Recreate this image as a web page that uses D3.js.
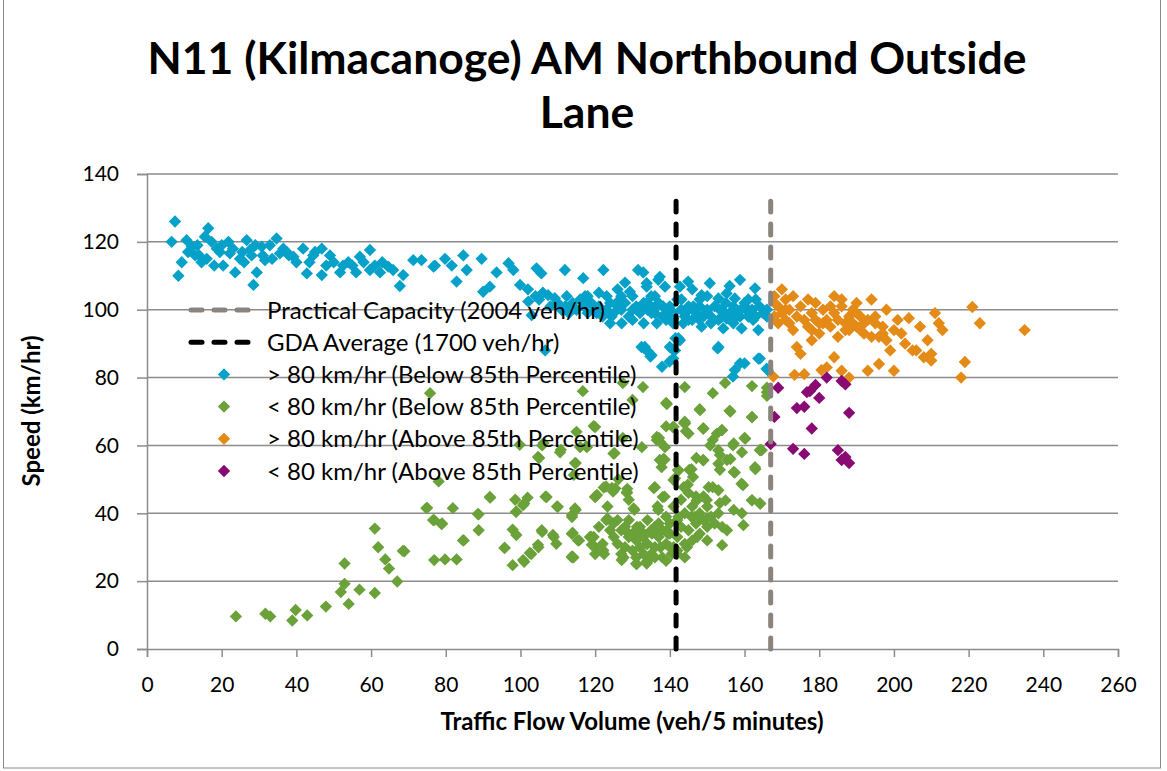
<!DOCTYPE html>
<html>
<head>
<meta charset="utf-8">
<script src="https://cdn.jsdelivr.net/npm/d3@7"></script>
<style>
  body { margin: 0; background: #fff; }
  svg { display: block; font-family: Lato, "Open Sans", sans-serif; }
</style>
</head>
<body>
<div id="chart"></div>
<script>
// title + axis text
var titleLines = ["N11 (Kilmacanoge) AM Northbound Outside", "Lane"];
var xTitle = "Traffic Flow Volume (veh/5 minutes)";
var yTitle = "Speed (km/hr)";
var xTicks = [0, 20, 40, 60, 80, 100, 120, 140, 160, 180, 200, 220, 240, 260];
var yTicks = [0, 20, 40, 60, 80, 100, 120, 140];

// capacity lines: flow per 5 min, and how high they are drawn
var practicalCapacity = 2004 / 12;
var gdaAverage = 1700 / 12;
var capLineTop = 132;

// series: [flow, speed]
var aboveBelow = [ // > 80 km/hr (Below 85th Percentile)
  [7.5,126],[6.6,120],[8.4,110],[9.3,114],[10.6,120.5],[12,118.6],[12.9,116],[14.6,114],[16.4,124],[15.5,121.5],
  [17.3,120],[18.7,118],[20.4,113],[21.8,120],[22.2,116.6],[23.6,111],[24.9,115],[26.7,120.5],[27.6,117.6],[28.5,107.3],
  [29.4,111],[30.7,118.6],[31.6,114.6],[32.9,119],[34.7,121],[35.6,116.6],[37.4,117],[39.2,115.6],[41.8,118],[42.8,110.7],
  [44.5,116],[46.8,118],[46.8,110.2],[49,116],[51.7,111],[53.9,114],[57,115.6],[59.7,117.6],[59.7,111.7],[62.4,111],
  [64.6,112.7],[65.9,111.7],[67.7,107],[68.6,110.2],[71.3,114.6],[73.5,114.6],[76.7,112.7],
  [11,117],[13.5,119],[14,116],[16,115],[18,113],[19.5,117],[20,119],[23,118],[25.5,117],[26,114],[28,116],[29,119],
  [31,116],[33.5,115],[36.5,118],[38,116],[40,114],[43.5,114],[45,117],[48,113],[50,114],[52.5,113],[55,113],[56,111],
  [58,114],[61,113],[63,114],
  [77.1,113],[79.8,115],[81.6,113],[82.9,108.3],[84.7,116],[85.6,111.7],[89.6,115],[90,105.3],[91.8,106.8],[93.6,111],
  [96.8,113.7],[98.1,111.7],[99.9,107.3],[102.1,102.4],[103,98.4],[104.3,112.2],[105.6,110.7],[106.6,88],[107.4,104.3],
  [109.2,103.4],[111.9,111.7],[112.4,104],[114.1,100.4],[116.8,109.3],[117.3,104],[118.6,102],[120.4,99],[122.2,111.7],
  [123.1,104],[124.4,98],[125.7,102],[127.1,96],[129.3,105.3],[131.5,111.7],[131.1,100],[132.9,101.4],[133.8,106.8],
  [135.1,99],[136.5,96],[137.3,109.7],[138.2,101],[132.4,89],[134.2,87.6],[140,89],[140.9,96],
  [132.9,111],[133.8,107.8],[136.9,108.8],[138.7,106.8],[142.7,106.8],[144.9,108.3],[150.7,107.8],[158.8,108.8],[162.8,106.3],
  [148.5,104.3],[153,103.3],[155.2,104.8],[157.4,103.3],[161,103],[143.1,103],[133.8,102],[136.5,101],[139.2,98],[140.9,97.4],
  [144.5,99.4],[146.3,101],[147.6,97.4],[149.9,99.4],[151.2,96.4],[153.4,100],[155.2,97.4],[156.5,99.4],[158.8,98],[160.5,100],
  [162.3,97],[163.7,94],[159.2,94.5],[154.3,94.5],[148.5,95],[143.6,96],[142.3,91.6],[141.4,88],[142.7,91],[153,89],
  [133.3,89],[135.1,86.6],[140.9,85.6],[158.8,84.2],[163.7,85.6],[165.9,82.6],
  [137.9,83.2],[139.9,84.7],[141,88],[133.2,88.6],[134.8,86.2],[152.8,88.6],[157.4,82.2],[156.9,80.3],[160,84.2],[164.1,85.6],
  [166.2,82.2],[141.5,91.6],
  [110,102],[111,100],[112,101],[113,99],[114,102],[115,100],[116,103],[117,101],[118,99],[119,102],[120,100],[121,101],
  [122,98],[123,100],[124,102],[125,99],[126,101],[127,100],[128,102],[129,98],[130,100],[131,101],[132,99],[133,102],
  [134,100],[135,101],[136,99],[137,102],[138,98],[139,100],[140,101],[141,99],[143,100],[144,98],[145,101],[146,97],
  [147,99],[148,101],[149,98],[150,100],[151,98],[152,101],[153,97],[154,100],[155,102],[156,99],[157,101],[158,98],
  [159,100],[160,101],[161,98],[162,100],[163,98],[164,101],[165,99],[166,100],
  [118,104],[121,105],[124,96],[127,104],[130,97],[133,96],[136,104],[139,97],[142,103],[145,97],[148,103],[151,96],
  [154,98],[157,96],[160,102],[163,103],[166,98],[126,106],[128,108],[130,104],[135,104],[146,106],[150,104],[156,107],
  [104,104],[106,105],[108,101],[102,106],[105,103]
];

var belowBelow = [ // < 80 km/hr (Below 85th Percentile)
  [23.8,9.6],[31.7,10.4],[33,9.6],[38.9,8.4],[39.8,11.5],[42.9,9.9],[47.9,12.5],[52.9,25.2],[52.9,19.2],[51.9,16.8],
  [54,13.3],[56.9,17.5],[61,35.5],[61.9,30],[61,16.5],[63.8,26.4],[64.8,23.7],[67,19.9],[68.9,28.8],
  [74.8,41.5],[76.9,38],[78.9,36.8],[78.1,49.4],[76.9,26.2],[79.8,26.4],[82.9,26.4],[81.9,41.5],[84.8,32],[88.8,39.7],
  [88.8,35],[91.9,44.6],[95.7,29.8],[97.9,24.7],[97.9,35.2],[98.9,33.6],[98.9,40.5],[98.6,44],[101,42.9],[101.9,44.6],
  [101,25.7],[99.8,60.2],[102.9,28],[104.8,30],[105.7,35],[106.7,44.9],[105,56.3],[106.2,60.7],[108.9,33],[109.8,42],
  [109.6,31],[110.8,58.7],[113.8,39.5],[114.8,41],[113.8,27.3],[113.8,34],[115.7,32],[117.6,59.7],[114.8,54.8],[114.3,51.3],
  [75.8,75.4],[116.7,76],[120,65.4],[117.8,59.5],[110.6,58],[105.8,60],[104.7,56.6],[114.6,54.8],[75,41.6],[76.6,38],
  [79,37],[88.6,39.8],[84.6,32],[91.8,44.8],[100.7,42.4],[98.8,40.4],[107,44.8],[110,41.9],[113.8,38.9],[105.8,34.5],
  [108.7,33.6],[104.7,30.7],[102.5,28.3],[100.7,26.2],[95.8,29.8],[68.5,28.9],[114,34.2],[115.4,32],[118.6,33],
  [113.8,27],[119.1,30.7],
  [119,33],[120,30],[120,44.9],[122.4,28],[122.9,47.9],[124.8,46.4],[123.3,42],[123.3,38.5],[125.2,57.7],[126.2,50],
  [127.1,26.2],[128.6,47.2],[129,44],[130.5,41],[131,25.2],[131.9,34],[133.8,25.2],[133.8,31],[135.7,47.4],[136.2,34],
  [136.7,42],[137.1,62.2],[138.6,55.8],[138.6,44.9],[139,65.6],[140.5,28],[139.5,34],[140,37],[141.4,50.3],[144.8,48.4],
  [145.2,52.8],[143.8,66.6],[144.3,64.2],[146.7,38],[147.1,56.3],
  [139.2,72.2],[148.1,70.4],[156.2,70],[162,68.3],[144.1,66.5],[149,65],[152.6,63.5],[153.9,64.5],[160.2,62],[157.1,60.6],
  [141,65.5],[145,63.5],[119.6,65.7],[136.5,62.5],[137.4,61],[150.8,60],[153,58.6],[159.3,58],[164.2,58.6],[124.9,57.6],
  [149,55.6],[153,54.6],[156.2,56],[138.3,56],[137.8,53.6],[142.3,52.6],[145.8,53],[157.1,52.2],[162.9,53],[159.2,48.7],
  [150.4,47.7],[153,46.8],[154.9,43.8],[147.2,43.8],[143.7,47.7],[141,49.8],[162,43.8],[164.2,42.8],[159.3,40],[159.7,36.5],
  [157.1,41],[154,36],[155.3,35],[154,30.6],[150,32],[147.3,33],[144.6,30],[141.9,28],[137.5,30],[133.8,25.6],
  [131.1,25],[127.6,27],[122.2,29],[114.2,27],[113.8,34],[119.6,33],[131.2,36],[136.9,41],[132.9,33],[128.5,34.5],
  [124.9,37],[130.3,41.4],[128.5,46.3],[120,44.8],[114.6,41.4],[125.4,47.3],[122.3,47.6],[138.1,44.8],[142.3,39],[145.8,39],
  [149.9,38.4],[139.2,35],[135.2,34],
  [127.4,78.4],[132.8,77.2],[144,77.2],[151.5,75.4],[154.8,78.4],[162,77.5],[166,75.7],[139,72.5],[148,70.7],[156,70.2],
  [162,68.4],[130,73.4],[144,67],[140.8,65.4],[148.9,65],[154,64.5],[160,62.2],[164.1,58.6],[115,64],[127.4,62.2],
  [136.5,61.6],[151.5,61.6],[156.9,60],[116,59.5],[132.5,59.5],[138.7,59.5],[137.3,55.7],[148.9,55.7],[153.4,57.2],
  [155.3,55.7],[162.8,53.6],[142.2,52.8],[146.2,50.7],[153.4,52.8],[157.4,52],[159.6,48.3],[151.5,47.7],[149.9,43.9],
  [153.4,43],[162,43.9],[164.1,43],[120.5,45.4],[124.5,47.5],[128.5,46],[136,47.7],[146.7,38.9],[166,77],[166,74.6],
  [164.6,58.6],
  [125,33],[126,31],[127,35],[128,30],[129,33],[130,29],[131,32],[132,36],[133,28],[134,31],[135,35],[136,30],[137,33],
  [138,27],[139,31],[140,34],[141,30],[142,33],[143,36],[144,31],[145,35],[146,32],[147,37],[148,34],[149,38],[150,36],
  [151,39],[152,37],[153,40],[126,38],[128,36],[130,34],[132,30],[134,38],[136,36],[138,35],[140,30],[142,38],[144,40],
  [146,42],[148,40],[150,42],[127,28],[129,38],[131,27],[133,34],[135,28],[137,37],[139,39],[141,42],[143,44],[145,46],
  [147,45],[149,45],[122,31],[124,35],[123,38],[121,36],[120,28],[134,26],[136,27],[139,26],[142,29],[144,27]
];

var aboveAbove = [ // > 80 km/hr (Above 85th Percentile)
  [168,104],[169,101],[170,106],[170,99],[171,103],[172,100],[172,96],[173,104],[174,98],[175,101],[176,97],[177,103],
  [178,99],[178,94],[179,102],[180,96],[181,100],[182,97],[183,95],[184,104],[184,99],[185,92],[186,101],[187,96],
  [188,98],[188,94],[189,100],[190,95],[190,102],[191,98],[192,93],[193,97],[194,103],[195,96],[196,92],[197,95],
  [198,91],[199,88],[200,94],[201,97],[202,93],[203,90],[204,97.5],[206,88],[207,95],[208,86],[209,91],[210,87],
  [211,99],[212,96],[213,94],[218,80],[219,84.6],[221,100.8],[223,96],[235,94],[174,89],[175,87],[176,81],[178,91],
  [182,83],[184,86],[186,82],[188,80],[193,82],[196,84],[200,82],[205,88],[210,85],[167.7,80.3],[173.4,80.8],
  [180.6,82.2],[180,93],[183,101],[186,103],[190,99],[192,96],[195,98],[198,100],[168,98],[171,97],[173,94],[177,95],
  [179,97],[181,96],[185,97],[187,94],[189,96],[191,94],[194,92],[197,93],[168,102],[169,96],[171,100]
];

var belowAbove = [ // < 80 km/hr (Above 85th Percentile)
  [169,77],[168,68.4],[167,60.4],[173,59],[176,57.5],[178,65],[174,71],[176,71.4],[177.5,76],[179,77.8],
  [180,74],[182,80],[186,79],[187,78],[188,69.6],[185,58.6],[187,56.6],[188,54.8],[186,55.7],[176.7,75.7]
];

var seriesNames = [
  "> 80 km/hr (Below 85th Percentile)",
  "< 80 km/hr (Below 85th Percentile)",
  "> 80 km/hr (Above 85th Percentile)",
  "< 80 km/hr (Above 85th Percentile)"
];
var seriesColors = ["#05a1c9", "#6ba139", "#e48a17", "#880a72"];
var lineNames = ["Practical Capacity (2004 veh/hr)", "GDA Average (1700 veh/hr)"];
var lineColors = ["#8b847e", "#000000"];

var W = 1167, H = 771;
var margin = { left: 147, right: 49, top: 174, bottom: 122 };

var svg = d3.select("#chart").append("svg")
  .attr("width", W)
  .attr("height", H);

// outer frame
svg.append("rect")
  .attr("x", 3.5).attr("y", -2)
  .attr("width", 1157).attr("height", 770)
  .attr("fill", "none")
  .attr("stroke", "#8a8a8a")
  .attr("stroke-width", 1);

var x = d3.scaleLinear().domain([0, 260]).range([margin.left, W - margin.right]);
var y = d3.scaleLinear().domain([0, 140]).range([H - margin.bottom, margin.top]);

// gridlines
svg.append("g")
  .selectAll("line")
  .data(yTicks.filter(function(d) { return d > 0; }))
  .enter().append("line")
  .attr("x1", x(0)).attr("x2", x(260))
  .attr("y1", function(d) { return y(d); })
  .attr("y2", function(d) { return y(d); })
  .attr("stroke", "#8c8c8c")
  .attr("stroke-width", 1.5);

// axes
var xAxis = svg.append("g")
  .attr("transform", "translate(0," + y(0) + ")")
  .call(d3.axisBottom(x).tickValues(xTicks).tickSize(8).tickPadding(20));
var yAxis = svg.append("g")
  .attr("transform", "translate(" + x(0) + ",0)")
  .call(d3.axisLeft(y).tickValues(yTicks).tickSize(10).tickPadding(18));

[xAxis, yAxis].forEach(function(g) {
  g.select(".domain").attr("stroke", "#8c8c8c").attr("stroke-width", 1.5);
  g.selectAll(".tick line").attr("stroke", "#8c8c8c").attr("stroke-width", 1.5);
  g.selectAll(".tick text")
    .attr("fill", "#000")
    .style("font-family", "Lato, sans-serif")
    .style("font-size", "21px");
});

// points
var diamond = d3.symbol().type(d3.symbolSquare).size(76);
var allSeries = [aboveBelow, belowBelow, aboveAbove, belowAbove];
allSeries.forEach(function(data, i) {
  svg.append("g")
    .selectAll("path")
    .data(data)
    .enter().append("path")
    .attr("d", diamond)
    .attr("transform", function(d) {
      return "translate(" + x(d[0]) + "," + y(d[1]) + ") rotate(45)";
    })
    .attr("fill", seriesColors[i]);
});

// capacity lines
var capLines = [practicalCapacity, gdaAverage];
capLines.forEach(function(v, i) {
  svg.append("line")
    .attr("x1", x(v)).attr("x2", x(v))
    .attr("y1", y(0)).attr("y2", y(capLineTop))
    .attr("stroke", lineColors[i])
    .attr("stroke-width", 5)
    .attr("stroke-dasharray", "11,12")
    .attr("stroke-linecap", "round");
});

// legend
var legend = svg.append("g").attr("transform", "translate(188,310)");
var rowH = 32.2;
lineNames.forEach(function(name, i) {
  legend.append("line")
    .attr("x1", 3).attr("x2", 63)
    .attr("y1", i * rowH).attr("y2", i * rowH)
    .attr("stroke", lineColors[i])
    .attr("stroke-width", 5)
    .attr("stroke-dasharray", "11,12")
    .attr("stroke-linecap", "round");
});
seriesNames.forEach(function(name, i) {
  legend.append("path")
    .attr("d", diamond)
    .attr("transform", "translate(36," + ((i + 2) * rowH) + ") rotate(45)")
    .attr("fill", seriesColors[i]);
});
lineNames.concat(seriesNames).forEach(function(name, i) {
  legend.append("text")
    .attr("x", 79)
    .attr("y", i * rowH)
    .attr("dy", "0.36em")
    .style("font-size", "24px")
    .text(name);
});

// titles
var t = svg.append("text")
  .attr("text-anchor", "middle")
  .style("font-weight", "bold")
  .style("font-size", "44.5px");
t.append("tspan").attr("x", 587).attr("y", 74).text(titleLines[0]);
t.append("tspan").attr("x", 587).attr("y", 128).text(titleLines[1]);

svg.append("text")
  .attr("x", 632).attr("y", 730)
  .attr("text-anchor", "middle")
  .style("font-weight", "bold")
  .style("font-size", "24px")
  .text(xTitle);

svg.append("text")
  .attr("transform", "translate(40,411) rotate(-90)")
  .attr("text-anchor", "middle")
  .style("font-weight", "bold")
  .style("font-size", "24px")
  .text(yTitle);
</script>
</body>
</html>
